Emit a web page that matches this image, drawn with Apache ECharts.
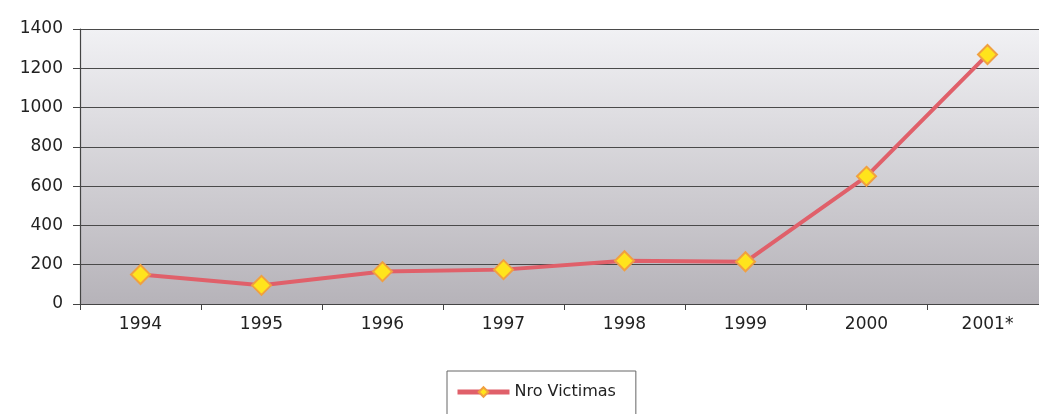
<!DOCTYPE html>
<html>
<head>
<meta charset="utf-8">
<script src="https://cdn.jsdelivr.net/npm/echarts@6/dist/echarts.min.js"></script>
<style>
html,body{margin:0;padding:0;background:#fff;}
#c{width:1039px;height:414px;}
</style>
</head>
<body>
<div id="c"></div>
<script>
const categories = ['1994','1995','1996','1997','1998','1999','2000','2001*'];
const victimas = [150, 95, 165, 175, 220, 215, 650, 1270];
const seriesName = 'Nro Victimas';
const yTicks = {min: 0, max: 1400, interval: 200};

const chart = echarts.init(document.getElementById('c'));
chart.setOption({
  animation: false,
  backgroundColor: '#ffffff',
  textStyle: {fontFamily: 'DejaVu Sans, sans-serif'},
  grid: {
    left: 80, top: 29, width: 968, bottom: 110,
    show: true,
    borderWidth: 0,
    backgroundColor: {
      type: 'linear', x: 0, y: 0, x2: 0, y2: 1,
      colorStops: [{offset: 0, color: '#f1f1f4'}, {offset: 1, color: '#b6b3b9'}]
    },
    containLabel: false,
    outerBoundsMode: 'none'
  },
  legend: {
    data: [seriesName],
    left: 447, top: 371,
    orient: 'horizontal',
    borderColor: '#666', borderWidth: 1,
    padding: [13, 20, 22, 8],
    itemWidth: 52, itemHeight: 12,
    lineStyle: {width: 5},
    textStyle: {fontSize: 16, color: '#222', letterSpacing: -0.6},
    backgroundColor: '#fff'
  },
  xAxis: {
    type: 'category',
    data: categories,
    boundaryGap: true,
    axisLine: {lineStyle: {color: '#444', width: 1.2}},
    axisTick: {show: true, inside: false, length: 6, lineStyle: {color: '#444'}},
    axisLabel: {fontSize: 17, color: '#222', margin: 12, letterSpacing: -0.6},
    splitLine: {show: false}
  },
  yAxis: {
    type: 'value',
    min: yTicks.min, max: yTicks.max, interval: yTicks.interval,
    axisLine: {show: true, lineStyle: {color: '#444', width: 1.2}},
    axisTick: {show: true, length: 7, lineStyle: {color: '#444'}},
    axisLabel: {fontSize: 17, color: '#222', margin: 17, letterSpacing: -0.6, formatter: v => String(v)},
    splitLine: {show: true, lineStyle: {color: '#4a4a4a', width: 1.2}}
  },
  series: [{
    name: seriesName,
    type: 'line',
    data: victimas,
    symbol: 'diamond',
    symbolSize: 19,
    lineStyle: {color: '#e0606a', width: 4},
    itemStyle: {color: '#ffe41c', borderColor: '#f0a040', borderWidth: 2},
    z: 5
  }]
});
</script>
</body>
</html>
